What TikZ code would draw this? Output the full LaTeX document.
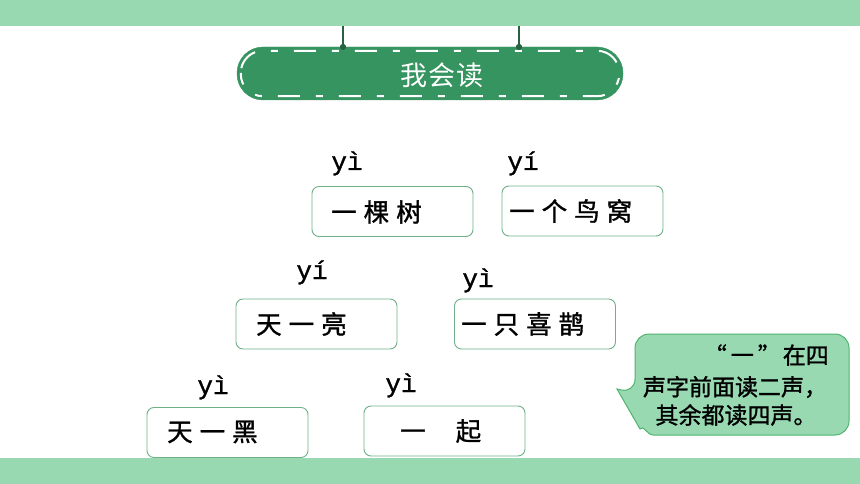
\documentclass[tikz,border=0pt]{standalone}
\usepackage{fontspec}
\newfontfamily\cjk[FakeBold=1.2]{Noto Sans CJK SC}
\newfontfamily\cjktitle{Noto Sans CJK SC}
\newfontfamily\pyfont[FakeBold=1.2]{Liberation Mono}
\definecolor{barG}{RGB}{152,217,178}
\definecolor{pillG}{RGB}{54,148,96}
\definecolor{hangG}{RGB}{40,96,64}
\definecolor{boxLine}{RGB}{110,176,136}
\definecolor{callFill}{RGB}{152,217,178}
\definecolor{callLine}{RGB}{80,180,110}
\newcommand\kg{\hspace{7pt}}
\begin{document}
\begin{tikzpicture}[x=1pt,y=-1pt,
  wordbox/.style={draw=boxLine,line width=0.9pt,fill=white,rounded corners=7pt,minimum width=161pt,minimum height=50pt,inner sep=0pt},
  wordtext/.style={anchor=west,inner sep=0pt,font=\cjk\fontsize{25.5}{25.5}\selectfont},
  pinyin/.style={anchor=base,inner sep=0pt,font=\pyfont\fontsize{26}{26}\selectfont},
  calltext/.style={inner sep=0pt,font=\cjk\fontsize{23}{23}\selectfont},
  hangdot/.style={circle,fill=hangG,minimum size=6pt,inner sep=0pt},
  hangline/.style={draw=hangG,line width=2pt}]
\useasboundingbox (0,0) rectangle (860,484);
% bars
\fill[barG] (0,0) rectangle (860,26);
\fill[barG] (0,458) rectangle (860,484);
% hangers
\coordinate (h1) at (343,26);
\coordinate (h2) at (519,26);
\node[hangdot] (d1) at (343,47) {};
\node[hangdot] (d2) at (519,47) {};
\draw[hangline] (h1) -- (d1);
\draw[hangline] (h2) -- (d2);
% title pill
\node[fill=pillG,draw=pillG,rounded corners=26pt,minimum width=386pt,minimum height=53pt,inner sep=0pt] (title) at (430,73.5) {};
\draw[white,line width=2pt,rounded corners=22pt,dash pattern=on 22pt off 16pt on 7pt off 16pt,dash phase=10pt]
  ([shift={(4,4)}]title.north west) rectangle ([shift={(-4,-4)}]title.south east);
\node[inner sep=0pt,text=white,font=\cjktitle\fontsize{27}{27}\selectfont] (ttext) at (442,75) {我\hspace{1pt}会\hspace{1pt}读};
\node[hangdot] at (d1) {};
\node[hangdot] at (d2) {};
% boxes
\node[wordbox] (b1) at (392.5,211.5) {};
\node[wordtext] (t1) at (331,212) {一\kg 棵\kg 树};
\node[pinyin] (p1) at (347,170) {yì};
\node[wordbox] (b2) at (582.5,211) {};
\node[wordtext] (t2) at (509,211) {一\kg 个\kg 鸟\kg 窝};
\node[pinyin] (p2) at (523,170) {yí};
\node[wordbox] (b3) at (316.5,324) {};
\node[wordtext] (t3) at (256,324) {天\kg 一\kg 亮};
\node[pinyin] (p3) at (312,279) {yí};
\node[wordbox] (b4) at (535,324) {};
\node[wordtext] (t4) at (461,324) {一\kg 只\kg 喜\kg 鹊};
\node[pinyin] (p4) at (478,287) {yì};
\node[wordbox] (b5) at (227.5,432.5) {};
\node[wordtext] (t5) at (167,432) {天\kg 一\kg 黑};
\node[pinyin] (p5) at (213,394) {yì};
\node[wordbox] (b6) at (444.5,431) {};
\node[wordtext] (t6) at (400,431) {一\hspace{30pt}起};
\node[pinyin] (p6) at (401,392) {yì};
% callout
\draw[fill=callFill,draw=callLine,line width=1pt]
  (635,393) -- (617,389) -- (640,429) to[out=60,in=180] (653,435) [rounded corners=14pt] -- (849,435) -- (849,334) -- (635,334) -- cycle;
\node[calltext,anchor=east] (c1) at (829,355) {“\hspace{4pt}一\hspace{4pt}”\hspace{2pt}在四};
\node[calltext] (c2) at (735,387) {声字前面读二声，};
\node[calltext] (c3) at (736,415) {其余都读四声。};
\end{tikzpicture}
\end{document}
